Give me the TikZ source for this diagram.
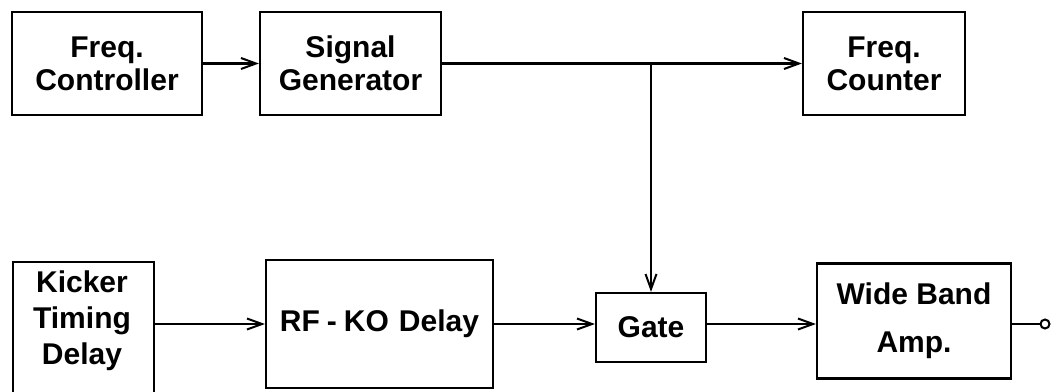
\documentclass[tikz,border=0pt]{standalone}
\usepackage{fontspec}
\setmainfont{Liberation Sans}
\usetikzlibrary{arrows.meta}
\begin{document}
\begin{tikzpicture}[x=1pt,y=-1pt,
  blk/.style={draw, line width=2.2pt, inner sep=0pt, align=center,
    font=\fontsize{30}{33}\selectfont\bfseries},
  lbl/.style={inner sep=0pt, align=center,
    font=\fontsize{30}{36}\selectfont\bfseries},
  wire/.style={line width=2.2pt},
  sig/.style={wire, -{Straight Barb[length=15pt,width=11pt,line width=2pt]}}]
\path[use as bounding box, clip] (0,0) rectangle (1052,391);

% upper row
\node[blk, minimum width=190pt, minimum height=103pt] (fc)  at (107,63.5) {Freq.\\Controller};
\node[blk, minimum width=181pt, minimum height=103pt] (sg)  at (350.5,63.5) {Signal\\Generator};
\node[blk, minimum width=162pt, minimum height=103pt] (fco) at (884,63.5) {Freq.\\Counter};

% lower row (the timing-delay box runs off the lower edge)
\node[blk, anchor=north west, minimum width=141pt, minimum height=150pt] (kick) at (12,261) {};
\node[lbl] (kicklbl) at (82,321) {Kicker\\Timing\\Delay};
\node[blk, minimum width=227pt, minimum height=128pt] (rf) at (379.5,324)
  {RF\hspace{7pt}-\hspace{7pt}KO\hspace{10pt}Delay};
\node[blk, minimum width=110pt, minimum height=69pt] (gate) at (651,327.5) {Gate};
\node[blk, minimum width=194pt, minimum height=115pt,
  font=\fontsize{30}{48}\selectfont\bfseries] (wba) at (914,321) {Wide Band\\Amp.};
\node[draw, line width=2pt, circle, minimum size=9pt, inner sep=0pt] (out) at (1045,324) {};

% connections
\draw[sig] (fc) -- (sg);
\draw[sig] (sg.east) -- (fco.west);
\coordinate (br) at (sg.east -| gate.north);
\draw[sig] (br) -- (gate.north);
\draw[sig] (kick.east |- rf.west) -- (rf.west);
\draw[sig] (rf.east) -- (rf.east -| gate.west);
\draw[sig] (gate.east |- rf.east) -- (rf.east -| wba.west);
\draw[wire] (wba.east |- rf.east) -- (out.west);
\end{tikzpicture}
\end{document}
